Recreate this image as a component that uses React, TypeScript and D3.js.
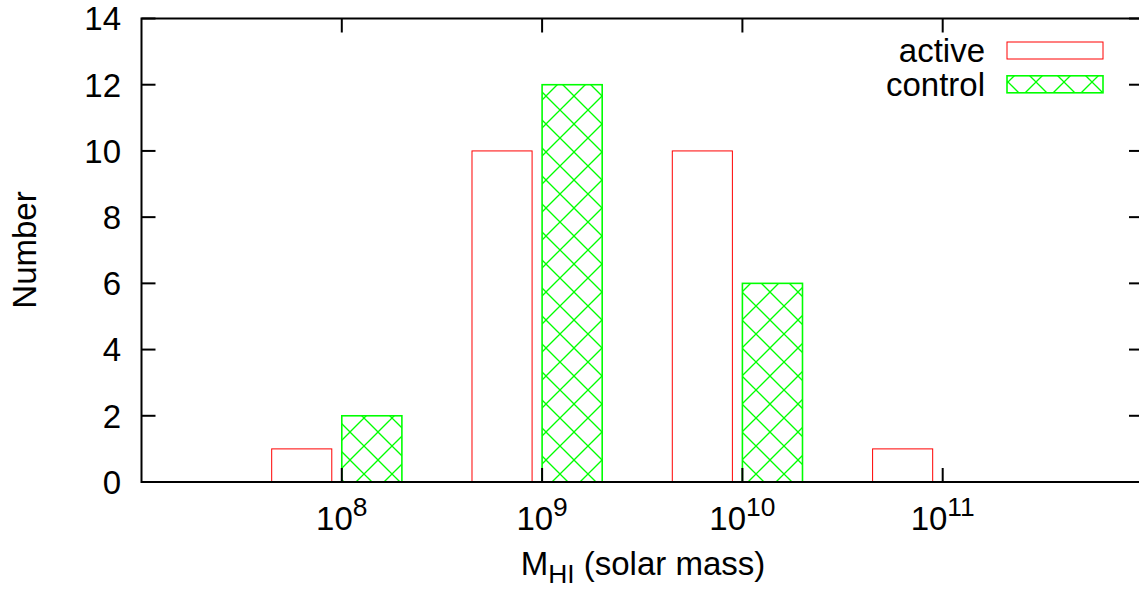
import React from "react";
import * as d3 from "d3";

const exponents = [8, 9, 10, 11];
const activeCounts = [1, 10, 10, 1];
const controlCounts = [2, 12, 6, 0];
const yTicks = [0, 2, 4, 6, 8, 10, 12, 14];
const xTickExponents = [8, 9, 10, 11];
// bin extents relative to the decade (log10 units)
const activeBin = [-0.35, -0.05];
const controlBin = [0.0, 0.3];
const seriesNames = ["active", "control"];

const W = 1139;
const H = 592;
const FONT = "'Liberation Sans', Arial, Helvetica, sans-serif";

export default function App() {
  const x = d3.scaleLog().domain([1e7, 1e12]).range([141.5, 1143]);
  const y = d3.scaleLinear().domain([0, 14]).range([482, 18.5]);
  const left = 141.5, right = 1143, top = 18.5, bottom = 482;
  const tick = 14;
  const fs = 33;

  const bar = (e: number, bin: number[], v: number) => {
    const x0 = x(Math.pow(10, e + bin[0]));
    const x1 = x(Math.pow(10, e + bin[1]));
    return { x: x0, w: x1 - x0, y: y(v), h: y(0) - y(v) };
  };

  return (
    <svg width={W} height={H} style={{ position: "absolute", left: 0, top: 0, background: "#fff" }} fontFamily={FONT}>
      <defs>
        <pattern id="hatch" patternUnits="userSpaceOnUse" width={28} height={28} x={14} y={12}>
          <line x1={0} y1={0} x2={28} y2={28} stroke="#00ff00" strokeWidth={1.3} />
          <line x1={28} y1={0} x2={0} y2={28} stroke="#00ff00" strokeWidth={1.3} />
          <line x1={-14} y1={14} x2={14} y2={42} stroke="#00ff00" strokeWidth={1.3} />
          <line x1={14} y1={-14} x2={42} y2={14} stroke="#00ff00" strokeWidth={1.3} />
        </pattern>
      </defs>
      <rect x={0} y={0} width={W} height={H} fill="#fff" />

      {exponents.map((e, i) => {
        const b = bar(e, activeBin, activeCounts[i]);
        return activeCounts[i] > 0 ? (
          <rect key={"a" + e} x={b.x} y={b.y} width={b.w} height={b.h} fill="#fff" stroke="#ff0000" strokeWidth={1} />
        ) : null;
      })}
      {exponents.map((e, i) => {
        const b = bar(e, controlBin, controlCounts[i]);
        return controlCounts[i] > 0 ? (
          <rect key={"c" + e} x={b.x} y={b.y} width={b.w} height={b.h} fill="url(#hatch)" stroke="#00ff00" strokeWidth={1.6} />
        ) : null;
      })}

      {/* frame */}
      <g stroke="#000" strokeWidth={2} fill="none">
        <rect x={left} y={top} width={right - left} height={bottom - top} />
        {yTicks.map((t) => (
          <g key={"yt" + t}>
            <line x1={left} x2={left + tick} y1={y(t)} y2={y(t)} />
            <line x1={right} x2={right - tick} y1={y(t)} y2={y(t)} />
          </g>
        ))}
        {xTickExponents.map((e) => (
          <g key={"xt" + e}>
            <line x1={x(Math.pow(10, e))} x2={x(Math.pow(10, e))} y1={bottom} y2={bottom - tick} />
            <line x1={x(Math.pow(10, e))} x2={x(Math.pow(10, e))} y1={top} y2={top + tick} />
          </g>
        ))}
      </g>

      {yTicks.map((t) => (
        <text key={"yl" + t} x={121} y={y(t)} dy="0.36em" textAnchor="end" fontSize={fs} fill="#000">
          {t}
        </text>
      ))}
      {xTickExponents.map((e) => (
        <text key={"xl" + e} x={x(Math.pow(10, e))} y={530} textAnchor="middle" fontSize={fs} fill="#000">
          10<tspan dy={-14} fontSize={fs * 0.8}>{e}</tspan>
        </text>
      ))}

      <text x={643} y={575} textAnchor="middle" fontSize={fs} fill="#000">
        M<tspan dy={8} fontSize={fs * 0.8}>HI</tspan>
        <tspan dy={-8}> (solar mass)</tspan>
      </text>
      <text transform={`translate(36,250) rotate(-90)`} textAnchor="middle" fontSize={fs} fill="#000">
        Number
      </text>

      {/* legend */}
      {seriesNames.map((s, i) => {
        const cy = 50.5 + i * 33.8;
        return (
          <g key={s}>
            <text x={985} y={cy} dy="0.36em" textAnchor="end" fontSize={fs} fill="#000">
              {s}
            </text>
            <rect x={1007} y={cy - 8.5} width={96} height={17}
              fill={i === 0 ? "#fff" : "url(#hatch)"}
              stroke={i === 0 ? "#ff0000" : "#00ff00"} strokeWidth={i === 0 ? 1 : 1.6} />
          </g>
        );
      })}
    </svg>
  );
}
